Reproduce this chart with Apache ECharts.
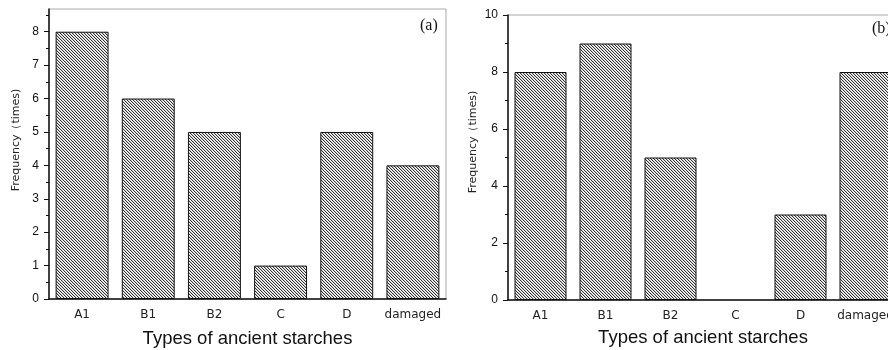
<!DOCTYPE html>
<html>
<head>
<meta charset="utf-8">
<script src="https://cdn.jsdelivr.net/npm/echarts@6/dist/echarts.min.js"></script>
<style>
  html, body { margin: 0; padding: 0; overflow: hidden; background: #fff; }
  #chart { width: 900px; height: 350px; }
</style>
</head>
<body>
<div id="chart"></div>
<script>
// data
const categories = ['A1', 'B1', 'B2', 'C', 'D', 'damaged'];
const valuesA = [8, 6, 5, 1, 5, 4];
const valuesB = [8, 9, 5, 0, 3, 8];
const yTicksA = [0, 1, 2, 3, 4, 5, 6, 7, 8];
const yMinorA = [0.5, 1.5, 2.5, 3.5, 4.5, 5.5, 6.5, 7.5, 8.5];

// hatch fill (diagonal lines, top-left to bottom-right)
function hatch() {
  const c = document.createElement('canvas');
  c.width = 3; c.height = 3;
  const ctx = c.getContext('2d');
  ctx.fillStyle = '#fff';
  ctx.fillRect(0, 0, 3, 3);
  for (let i = 0; i < 3; i++) {
    ctx.fillStyle = '#333';
    ctx.fillRect(i, i, 1, 1);
    ctx.fillStyle = '#d0d0d0';
    ctx.fillRect((i + 1) % 3, i, 1, 1);
  }
  return c;
}
const fill = { image: hatch(), repeat: 'repeat' };

const chart = echarts.init(document.getElementById('chart'));

const axisLineStyle = { color: '#111', width: 1.5 };
const catLabel = { fontFamily: 'DejaVu Sans', fontSize: 12, color: '#222', margin: 10, interval: 0 };
const valLabel = { fontFamily: 'Liberation Sans', fontSize: 12, color: '#111', margin: 10 };
const xName = { fontFamily: 'Liberation Sans', fontSize: 18.5, color: '#111' };

// zero-height bars drawn without an outline
const barData = vals => vals.map(v => v === 0 ? { value: v, itemStyle: { borderWidth: 0 } } : v);

const option = {
  animation: false,
  grid: [
    { left: 49, top: 9, width: 397, height: 290, outerBoundsMode: 'none', show: true, borderColor: '#aaa', borderWidth: 1 },
    { left: 508, top: 15, width: 390, height: 285, outerBoundsMode: 'none', show: true, borderColor: '#aaa', borderWidth: 1 }
  ],
  xAxis: [
    {
      type: 'category', gridIndex: 0, position: 'bottom', data: categories,
      axisLine: { lineStyle: axisLineStyle },
      axisTick: { alignWithLabel: true, length: 5, lineStyle: { color: '#111' } },
      axisLabel: catLabel,
      name: 'Types of ancient starches', nameLocation: 'middle', nameGap: 30, nameTextStyle: xName
    },
    {
      type: 'category', gridIndex: 0, position: 'bottom', data: categories,
      axisLine: { show: false },
      axisTick: { length: 3, lineStyle: { color: '#111' } },
      axisLabel: { show: false }
    },
    {
      type: 'category', gridIndex: 1, position: 'bottom', data: categories,
      axisLine: { lineStyle: axisLineStyle },
      axisTick: { alignWithLabel: true, length: 5, lineStyle: { color: '#111' } },
      axisLabel: catLabel,
      name: 'Types of ancient starches', nameLocation: 'middle', nameGap: 28, nameTextStyle: xName
    },
    {
      type: 'category', gridIndex: 1, position: 'bottom', data: categories,
      axisLine: { show: false },
      axisTick: { length: 3, lineStyle: { color: '#111' } },
      axisLabel: { show: false }
    }
  ],
  yAxis: [
    {
      type: 'value', gridIndex: 0, min: 0, max: 8.68,
      axisLine: { show: true, lineStyle: axisLineStyle },
      axisTick: { show: true, length: 5, customValues: yTicksA, lineStyle: { color: '#111' } },
      axisLabel: Object.assign({ customValues: yTicksA }, valLabel),
      splitLine: { show: false }
    },
    {
      type: 'value', gridIndex: 0, min: 0, max: 8.68, position: 'left',
      axisLine: { show: false },
      axisTick: { show: true, length: 3, customValues: yMinorA, lineStyle: { color: '#111' } },
      axisLabel: { show: false },
      splitLine: { show: false }
    },
    {
      type: 'value', gridIndex: 1, min: 0, max: 10, interval: 2,
      axisLine: { show: true, lineStyle: axisLineStyle },
      axisTick: { show: true, length: 5, lineStyle: { color: '#111' } },
      minorTick: { show: true, splitNumber: 2, length: 3, lineStyle: { color: '#111' } },
      axisLabel: valLabel,
      splitLine: { show: false }
    }
  ],
  graphic: [
    {
      type: 'text', x: 16.5, y: 140, rotation: Math.PI / 2,
      style: { text: 'Frequency（times)', fontFamily: 'DejaVu Sans', fontSize: 11, fill: '#222', align: 'center', verticalAlign: 'middle' }
    },
    {
      type: 'text', x: 473, y: 142, rotation: Math.PI / 2,
      style: { text: 'Frequency（times)', fontFamily: 'DejaVu Sans', fontSize: 11, fill: '#222', align: 'center', verticalAlign: 'middle' }
    },
    {
      type: 'text', x: 420, y: 26,
      style: { text: '(a)', fontFamily: 'Liberation Serif', fontSize: 16, fill: '#111', align: 'left', verticalAlign: 'middle' }
    },
    {
      type: 'text', x: 872, y: 29,
      style: { text: '(b)', fontFamily: 'Liberation Serif', fontSize: 16, fill: '#111', align: 'left', verticalAlign: 'middle' }
    }
  ],
  series: [
    {
      type: 'bar', xAxisIndex: 0, yAxisIndex: 0, data: barData(valuesA), barCategoryGap: '20%',
      itemStyle: { color: fill, borderColor: '#111', borderWidth: 1 }
    },
    {
      type: 'bar', xAxisIndex: 2, yAxisIndex: 2, data: barData(valuesB), barCategoryGap: '20%',
      itemStyle: { color: fill, borderColor: '#111', borderWidth: 1 }
    }
  ]
};
chart.setOption(option);
</script>
</body>
</html>
